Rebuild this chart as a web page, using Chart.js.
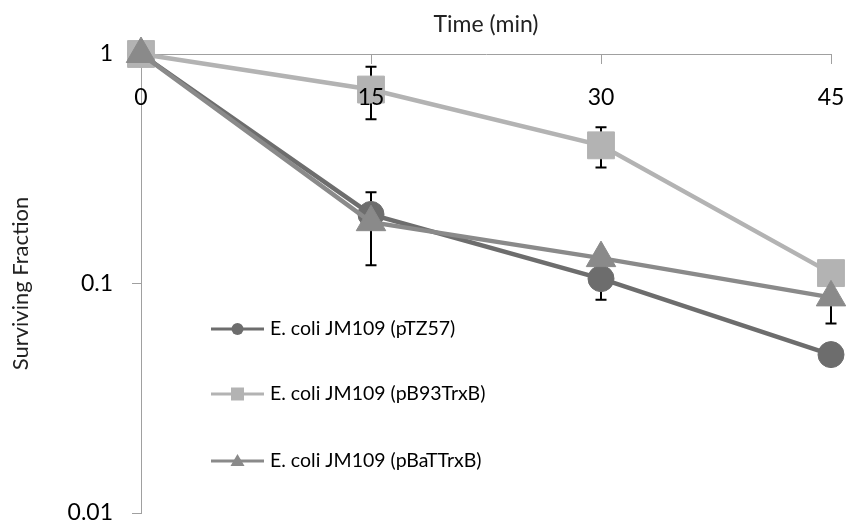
<!DOCTYPE html>
<html><head><meta charset="utf-8">
<script src="https://cdn.jsdelivr.net/npm/chart.js@4/dist/chart.umd.min.js"></script>
<style>html,body{margin:0;padding:0;background:#fff}#wrap{width:851px;height:522px}</style>
</head><body><div id="wrap"><canvas id="c" width="851" height="522"></canvas></div>
<script>
const times = [0, 15, 30, 45];
const xTicks = [0, 15, 30, 45];
const yTicks = [0.01, 0.1, 1];
const seriesNames = ['E. coli JM109 (pTZ57)', 'E. coli JM109 (pB93TrxB)', 'E. coli JM109 (pBaTTrxB)'];
const pTZ57 = [1, 0.2, 0.105, 0.049];
const pB93TrxB = [1, 0.7, 0.40, 0.111];
const pBaTTrxB = [1, 0.185, 0.129, 0.087];
const errTZ57 = [0, 0, 0.02, 0];
const errB93 = [0, 0.18, 0.08, 0];
const errBaT = [0, 0.065, 0, 0.02];

const FONT = 'Lato';
const toPts = arr => times.map((t, i) => ({x: t, y: arr[i]}));

const errorBars = {
  id: 'errorBars',
  beforeDatasetsDraw(chart) {
    const ctx = chart.ctx, xs = chart.scales.x, ys = chart.scales.y;
    ctx.save();
    ctx.strokeStyle = '#000';
    ctx.lineWidth = 2;
    chart.data.datasets.forEach(ds => {
      (ds.err || []).forEach((e, i) => {
        if (!e) return;
        const v = ds.data[i].y;
        const x = xs.getPixelForValue(ds.data[i].x);
        const y1 = ys.getPixelForValue(v + e);
        const y2 = ys.getPixelForValue(v - e);
        ctx.beginPath();
        ctx.moveTo(x, y1); ctx.lineTo(x, y2);
        ctx.moveTo(x - 5.5, y1); ctx.lineTo(x + 5.5, y1);
        ctx.moveTo(x - 5.5, y2); ctx.lineTo(x + 5.5, y2);
        ctx.stroke();
      });
    });
    ctx.restore();
  }
};

const customLegend = {
  id: 'customLegend',
  afterDraw(chart) {
    const ctx = chart.ctx, a = chart.chartArea;
    const x0 = a.left + 70, x1 = a.left + 123, xt = a.left + 129;
    const rows = [a.top + 275, a.top + 340, a.top + 407];
    ctx.save();
    chart.data.datasets.forEach((ds, i) => {
      const y = rows[i], cx = (x0 + x1) / 2;
      ctx.strokeStyle = ds.borderColor;
      ctx.fillStyle = ds.backgroundColor;
      ctx.lineWidth = 3;
      ctx.beginPath(); ctx.moveTo(x0, y); ctx.lineTo(x1, y); ctx.stroke();
      ctx.beginPath();
      if (ds.pointStyle === 'circle') ctx.arc(cx, y, 6, 0, Math.PI * 2);
      else if (ds.pointStyle === 'rect') ctx.rect(cx - 6.5, y - 6.5, 13, 13);
      else { ctx.moveTo(cx, y - 7); ctx.lineTo(cx + 7, y + 5); ctx.lineTo(cx - 7, y + 5); ctx.closePath(); }
      ctx.fill();
      ctx.fillStyle = '#000';
      ctx.font = '19.5px ' + FONT;
      ctx.textBaseline = 'middle';
      ctx.fillText(ds.label, xt, y);
    });
    ctx.restore();
  }
};

new Chart(document.getElementById('c'), {
  type: 'line',
  data: {
    datasets: [
      {label: seriesNames[0], data: toPts(pTZ57), err: errTZ57, borderColor: '#6d6d6d', backgroundColor: '#6d6d6d',
       pointStyle: 'circle', pointRadius: 13, order: 2},
      {label: seriesNames[1], data: toPts(pB93TrxB), err: errB93, borderColor: '#b3b3b3', backgroundColor: '#b3b3b3',
       pointStyle: 'rect', pointRadius: 19, order: 1},
      {label: seriesNames[2], data: toPts(pBaTTrxB), err: errBaT, borderColor: '#8a8a8a', backgroundColor: '#8a8a8a',
       pointStyle: 'triangle', pointRadius: 17, order: 0}
    ].map(d => Object.assign(d, {borderWidth: 4.5, pointBorderWidth: 1, pointBorderColor: d.borderColor,
       pointBackgroundColor: d.backgroundColor, tension: 0, clip: false, fill: false}))
  },
  options: {
    responsive: false,
    animation: false,
    layout: {autoPadding: false, padding: {left: 0, right: 20, top: 0, bottom: 9}},
    plugins: {legend: {display: false}, tooltip: {enabled: false}},
    scales: {
      x: {
        type: 'linear', position: {y: 1}, min: 0, max: 45,
        afterBuildTicks: s => { s.ticks = xTicks.map(v => ({value: v})); },
        afterFit: s => { s.height = 0; s.paddingLeft = 0; s.paddingRight = 0; s.paddingTop = 0; s.paddingBottom = 0; },
        ticks: {font: {family: FONT, size: 23}, color: '#000', padding: 21, maxRotation: 0, z: 1},
        grid: {drawOnChartArea: false, tickLength: 9, color: '#a0a0a0'},
        border: {color: '#a0a0a0', width: 1}
      },
      xTitle: {
        type: 'linear', position: 'top', min: 0, max: 45,
        ticks: {display: false}, grid: {display: false, drawTicks: false}, border: {display: false},
        title: {display: true, text: 'Time (min)', font: {family: FONT, size: 23}, color: '#222', padding: {top: 11, bottom: 0}},
        afterFit: s => { s.height = 54; s.paddingLeft = 0; s.paddingRight = 0; }
      },
      y: {
        type: 'logarithmic', position: 'left', min: 0.01, max: 1,
        afterBuildTicks: s => { s.ticks = yTicks.map(v => ({value: v})); },
        ticks: {font: {family: FONT, size: 23, lineHeight: 0.7}, color: '#000', padding: 19, callback: v => String(v)},
        grid: {drawOnChartArea: false, tickLength: 9, color: '#a0a0a0'},
        border: {color: '#a0a0a0', width: 1},
        title: {display: true, text: 'Surviving Fraction', font: {family: FONT, size: 22}, color: '#222', padding: {top: 8, bottom: 0}},
        afterFit: s => { s.width = 141; s.paddingTop = 0; s.paddingBottom = 0; }
      }
    }
  },
  plugins: [errorBars, customLegend]
});
</script></body></html>
